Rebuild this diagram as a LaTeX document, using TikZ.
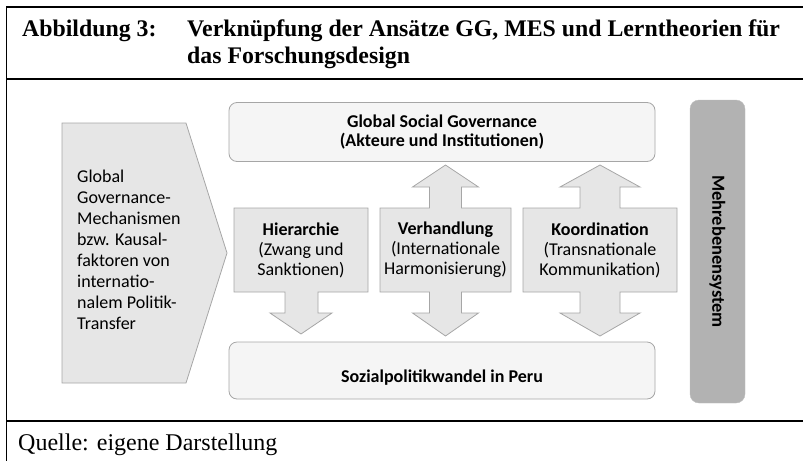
\documentclass[tikz,border=0pt]{standalone}
\usepackage{fontspec}
\setmainfont{Liberation Serif}
\newfontfamily\diagfont{Carlito}

\definecolor{boxfill}{HTML}{F5F5F5}
\definecolor{arrowfill}{HTML}{E6E6E6}
\definecolor{barfill}{HTML}{B2B2B2}
\definecolor{edgegray}{HTML}{A6A6A6}

\tikzset{
  rbox/.style={draw=edgegray, fill=boxfill, rounded corners=8pt, line width=0.8pt,
    minimum width=426pt, inner sep=0pt, align=center,
    font=\diagfont\bfseries\fontsize{18}{19}\selectfont},
  shapefill/.style={draw=edgegray, fill=arrowfill, line width=0.8pt},
  lbl/.style={inner sep=0pt, align=center, font=\diagfont\fontsize{18}{20}\selectfont},
  titletext/.style={anchor=base west, inner sep=0pt, font=\bfseries\fontsize{23.8}{27}\selectfont},
  frameline/.style={line width=1.2pt}
}

\begin{document}
\begin{tikzpicture}[x=1pt,y=-1pt]
\useasboundingbox (0,0) rectangle (803,461);

% frame of the figure
\draw[frameline] (803,7) -- (6.5,7) -- (6.5,461);
\draw[frameline] (6.5,79) -- (803,79);
\draw[frameline] (6.5,421) -- (803,421);

\node[titletext] (fignum) at (22,36) {Abbildung 3:};
\node[titletext] (title1) at (187,36) {Verknüpfung der Ansätze GG, MES und Lerntheorien für};
\node[titletext] (title2) at (187,63) {das Forschungsdesign};
\node[anchor=base west, inner sep=0pt, font=\fontsize{24}{28}\selectfont] (source) at (18,450) {Quelle: eigene Darstellung};

% mechanisms (left)
\draw[shapefill] (62,123) -- (186,123) -- (227,253) -- (186,383) -- (62,383) -- cycle;
\node[lbl, align=left, anchor=west, font=\diagfont\fontsize{18}{21}\selectfont] (mech) at (77,250)
  {Global\\Governance-\\Mechanismen\\bzw. Kausal-\\faktoren von\\internatio-\\nalem Politik-\\Transfer};

% upper and lower level
\node[rbox, minimum height=59pt] (gsg) at (442,132) {Global Social Governance\\(Akteure und Institutionen)};
\node[rbox, minimum height=57pt, text height=28pt, text depth=4pt] (wandel) at (442,370.5) {Sozialpolitikwandel in Peru};

% arrow boxes
\draw[shapefill] (234,208) -- (368,208) -- (368,292) -- (318,292) -- (318,313) -- (332,313)
  -- (301,334) -- (270,313) -- (285,313) -- (285,292) -- (234,292) -- cycle;
\foreach \cx/\hw/\sw/\aw in {445.5/65.5/16/33, 600/77/20/40} {
  \draw[shapefill] (\cx-\hw,208) -- (\cx-\sw,208) -- (\cx-\sw,187) -- (\cx-\aw,187) -- (\cx,165)
    -- (\cx+\aw,187) -- (\cx+\sw,187) -- (\cx+\sw,208) -- (\cx+\hw,208) -- (\cx+\hw,292)
    -- (\cx+\sw,292) -- (\cx+\sw,313) -- (\cx+\aw,313) -- (\cx,336) -- (\cx-\aw,313)
    -- (\cx-\sw,313) -- (\cx-\sw,292) -- (\cx-\hw,292) -- cycle;
}
\node[lbl] (hier) at (301,250) {\textbf{Hierarchie}\\(Zwang und\\Sanktionen)};
\node[lbl] (verh) at (445.5,250) {\textbf{Verhandlung}\\(Internationale\\Harmonisierung)};
\node[lbl] (koor) at (600,250) {\textbf{Koordination}\\(Transnationale\\Kommunikation)};

% multi-level system
\node[fill=barfill, draw=barfill!85!white, rounded corners=9pt, minimum width=303pt,
  minimum height=55pt, inner sep=0pt, rotate=-90,
  font=\diagfont\bfseries\fontsize{18.5}{20}\selectfont] (mes) at (717.5,251.5) {Mehrebenensystem};
\end{tikzpicture}
\end{document}
